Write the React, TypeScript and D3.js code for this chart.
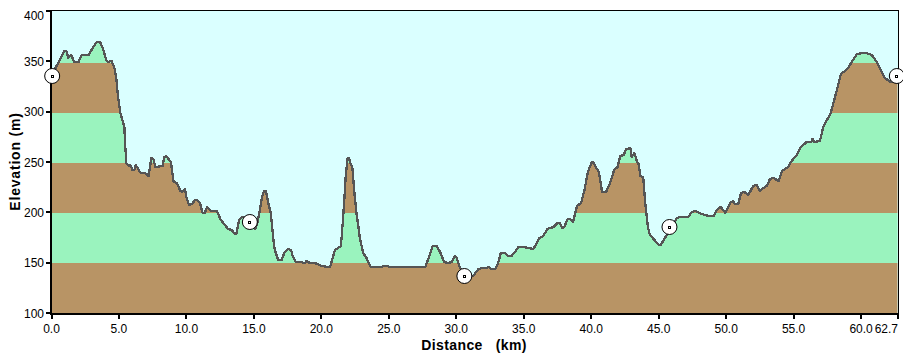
import React from "react";
import * as d3 from "d3";

const distances = [0,0.3,0.6,0.95,1.1,1.25,1.45,1.7,2.0,2.25,2.75,3.1,3.35,3.6,3.8,4.05,4.2,4.45,4.65,4.8,4.9,5.1,5.4,5.45,5.55,5.75,5.85,6.0,6.15,6.25,6.6,6.95,7.2,7.4,7.55,7.7,8.25,8.35,8.5,8.85,9.05,9.3,9.55,9.7,9.9,10.0,10.2,10.4,10.65,10.75,11.0,11.2,11.35,11.55,11.8,12.25,12.55,12.85,13.1,13.35,13.6,13.7,13.9,14.1,14.7,15.1,15.25,15.4,15.6,15.75,15.9,16.05,16.25,16.45,16.55,16.8,17.05,17.25,17.55,17.75,17.9,18.1,18.4,18.8,18.9,19.15,19.5,19.9,20.0,20.5,20.65,20.9,21.0,21.45,21.6,21.7,21.8,21.95,22.05,22.15,22.3,22.45,22.6,22.75,22.85,23.1,23.35,23.65,24.5,24.6,24.9,25.05,27.7,27.95,28.25,28.55,28.8,29.1,29.4,29.65,29.9,30.0,30.25,30.6,31.25,31.65,31.95,32.25,32.4,32.55,32.9,33.1,33.3,33.6,33.85,34.1,34.35,34.6,35.0,35.7,35.9,36.15,36.45,36.75,37.2,37.5,37.65,37.85,38.0,38.25,38.45,38.65,38.95,39.25,39.5,39.75,40.05,40.15,40.55,40.65,40.8,41.1,41.4,41.7,41.95,42.15,42.4,42.6,42.9,43.0,43.2,43.4,43.5,43.65,43.85,44.0,44.2,44.35,44.75,45.0,45.15,45.6,46.35,46.55,47.2,47.45,47.7,48.2,48.7,49.1,49.3,49.6,49.95,50.3,50.5,50.65,50.9,51.1,51.35,51.65,52.0,52.25,52.5,52.75,53.0,53.25,53.5,53.9,54.15,54.6,54.85,55.25,55.5,55.95,56.3,56.4,56.55,56.95,57.2,57.75,58.15,58.5,58.8,59.05,59.3,59.7,60.2,60.4,60.8,61.15,61.45,61.75,62.2,62.7];
const elevations = [337,345,353,362,362,355,358,351,351,358,358,366,371,371,365,353,351,352,346,335,320,300,286,270,250,247,248,243,243,248,240,240,237,255,254,246,247,256,257,251,231,230,222,221,224,216,208,209,213,213,210,200,200,206,202,202,193,188,184,183,179,179,193,196,196,184,190,200,216,222,222,211,200,173,163,153,153,160,164,163,156,151,151,150,152,150,150,148,147,146,146,158,163,167,193,213,236,255,255,250,245,220,200,186,175,160,155,146,146,147,147,146,146,155,167,167,161,151,150,151,157,156,146,137,137,144,145,145,146,144,144,150,160,160,157,157,161,166,166,164,168,175,177,184,186,190,190,185,186,194,194,191,207,210,223,241,251,251,241,235,221,221,230,243,246,257,258,264,265,256,260,251,250,237,236,211,186,178,172,168,168,178,195,196,196,201,202,199,197,197,203,206,200,210,212,209,209,220,221,218,227,228,222,225,227,234,235,232,242,246,252,258,265,271,271,274,271,272,286,300,320,339,342,345,351,359,360,360,358,351,343,335,331,331];
const markerDistances = [0.05, 14.7, 30.6, 45.8, 62.65];
const markerElevations = [337, 191, 137, 186, 337];
const xTicks = [0,5,10,15,20,25,30,35,40,45,50,55,60,62.7];
const yTicks = [100,150,200,250,300,350,400];
const bandEdges = [100,150,200,250,300,350,400];
const bandColors = ["#B89465","#9AF3BE","#B89465","#9AF3BE","#B89465","#9AF3BE"];

const x = d3.scaleLinear().domain([0, 62.7]).range([51.5, 897.5]);
const y = d3.scaleLinear().domain([100, 400]).range([313, 13]);
const yAxis = d3.scaleLinear().domain([100, 400]).range([313, 11]);
const profile = distances.map((d, i): [number, number] => [d, elevations[i]]);
const areaPath = d3.area<[number, number]>().x(d => x(d[0])).y0(y(100)).y1(d => y(d[1]))(profile) as string;
const linePath = d3.line<[number, number]>().x(d => x(d[0])).y(d => y(d[1]))(profile) as string;
const font = '"Liberation Sans", Arial, sans-serif';

export default function App() {
  return (
    <svg width={903} height={358} style={{ position: "absolute", left: 0, top: 0, background: "#fff" }} fontFamily={font}>
      <defs>
        <clipPath id="terrain"><path d={areaPath} /></clipPath>
      </defs>
      <rect x={51} y={11} width={847} height={302} fill="#DAFFFF" />
      <g clipPath="url(#terrain)" shapeRendering="crispEdges">
        {bandColors.map((c, i) => (
          <rect key={i} x={51} width={847} y={y(bandEdges[i + 1])} height={y(bandEdges[i]) - y(bandEdges[i + 1])} fill={c} />
        ))}
      </g>
      <path d={linePath} fill="none" stroke="#555555" strokeWidth={2.3} shapeRendering="crispEdges" strokeLinejoin="round" />
      <g shapeRendering="crispEdges" stroke="#000">
        <line x1={46} x2={899} y1={10.5} y2={10.5} strokeWidth={1} />
        <line x1={898.5} x2={898.5} y1={10} y2={314} strokeWidth={1} />
        <line x1={51} x2={51} y1={10} y2={315} strokeWidth={2} />
        <line x1={50} x2={899} y1={314} y2={314} strokeWidth={2} />
        {yTicks.map(t => <line key={t} x1={46} x2={51} y1={Math.round(yAxis(t))} y2={Math.round(yAxis(t))} strokeWidth={2} />)}
        {xTicks.map(t => <line key={t} x1={Math.round(x(t))} x2={Math.round(x(t))} y1={314} y2={319} strokeWidth={2} />)}
      </g>
      {yTicks.map(t => (
        <text key={t} x={44} y={t === 400 ? 19.5 : yAxis(t) + 4.5} textAnchor="end" fontSize={12} fill="#000">{t}</text>
      ))}
      {xTicks.map(t => (
        <text key={t} x={t === 62.7 ? 898 : x(t)} y={332.5} textAnchor={t === 62.7 ? "end" : "middle"} fontSize={12} fill="#000">{t.toFixed(1)}</text>
      ))}
      <text x={474} y={350} textAnchor="middle" fontSize={14} fontWeight="bold" letterSpacing={0.4} style={{ whiteSpace: "pre" }} fill="#000">Distance   (km)</text>
      <text transform="translate(20,161.5) rotate(-90)" textAnchor="middle" fontSize={14} fontWeight="bold" letterSpacing={0.8} fill="#000">Elevation (m)</text>
      {markerDistances.map((d, i) => (
        <g key={i} transform={`translate(${x(d)},${y(markerElevations[i])})`}>
          <circle r={7.5} fill="#fff" stroke="#000" strokeWidth={1} />
          <rect x={-1} y={-1} width={2} height={2} fill="#fff" stroke="#000" strokeWidth={1} shapeRendering="crispEdges" />
        </g>
      ))}
    </svg>
  );
}
